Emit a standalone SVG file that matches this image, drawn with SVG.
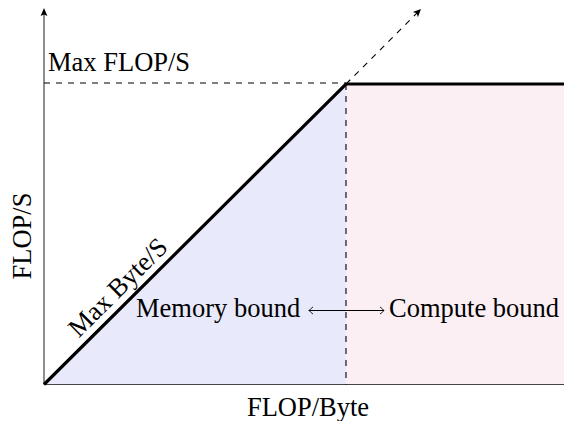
<svg xmlns="http://www.w3.org/2000/svg" width="564" height="421" viewBox="0 0 564 421">
  <style>
    text { font-family: "Liberation Serif", "Times New Roman", serif; font-size: 26.5px; fill: #000; }
    .axis { stroke: #444; stroke-width: 1.2; fill: none; }
    .roof { stroke: #000; stroke-width: 3.2; fill: none; stroke-linejoin: miter; }
    .guide { stroke: #000; stroke-width: 1.1; fill: none; stroke-dasharray: 6 6; }
    .thin { stroke: #000; stroke-width: 1; fill: none; }
  </style>
  <defs>
    <marker id="stealth" markerUnits="userSpaceOnUse" viewBox="-9 -5 10 10" refX="0" refY="0" markerWidth="10" markerHeight="10" orient="auto">
      <path d="M0,0 L-8,-3.6 L-6,0 L-8,3.6 Z" fill="#000"/>
    </marker>
    <marker id="hook" markerUnits="userSpaceOnUse" viewBox="-6 -5 7 10" refX="0" refY="0" markerWidth="7" markerHeight="10" orient="auto-start-reverse">
      <path d="M-4,-3.6 Q-0.8,-1 0,0 Q-0.8,1 -4,3.6" stroke="#000" stroke-width="0.9" fill="none"/>
    </marker>
  </defs>

  <!-- shaded regions -->
  <g id="memory-region">
    <polygon points="44,384.5 346,84 346,384.5" fill="#e9e9fc"/>
  </g>
  <g id="compute-region">
    <rect x="346" y="84" width="218" height="300.5" fill="#fbeff3"/>
  </g>

  <!-- axes -->
  <g id="axes">
    <line class="axis" x1="44" y1="384.5" x2="564" y2="384.5"/>
    <line class="axis" x1="44" y1="384.5" x2="44" y2="13" />
    <path d="M44,8 L40.6,16 L44,14.4 L47.4,16 Z" fill="#000"/>
  </g>

  <!-- guides, roofline and annotation arrow -->
  <g id="connectors">
    <line class="guide" x1="44" y1="83" x2="346" y2="83"/>
    <line class="guide" x1="346" y1="84" x2="346" y2="384.5"/>
    <line class="guide" x1="346" y1="84" x2="421" y2="9" marker-end="url(#stealth)"/>
    <polyline class="roof" points="44,384.5 346,84 564,84"/>
    <line class="thin" x1="309" y1="310.5" x2="384" y2="310.5" marker-start="url(#hook)" marker-end="url(#hook)"/>
  </g>

  <!-- labels -->
  <g id="labels">
    <text x="48" y="71">Max FLOP/S</text>
    <text transform="translate(124,293.5) rotate(-44.85)" text-anchor="middle">Max Byte/S</text>
    <text x="136" y="317">Memory bound</text>
    <text x="389" y="317">Compute bound</text>
    <text x="308" y="416" text-anchor="middle">FLOP/Byte</text>
    <text transform="translate(31,236) rotate(-90)" text-anchor="middle">FLOP/S</text>
  </g>
</svg>
